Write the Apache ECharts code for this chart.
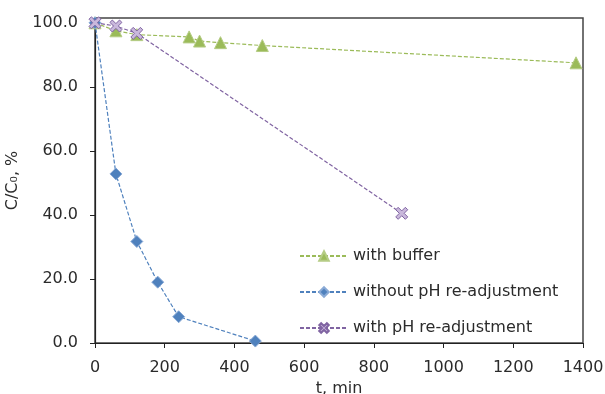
<!DOCTYPE html>
<html>
<head>
<meta charset="utf-8">
<script src="https://cdn.jsdelivr.net/npm/echarts@6/dist/echarts.min.js"></script>
<style>html,body{margin:0;padding:0;background:#fff;}#c{width:605px;height:394px;}</style>
</head>
<body>
<div id="c"></div>
<script>
const seriesNames = ['with buffer', 'without pH re-adjustment', 'with pH re-adjustment'];
const bufferT = [0, 60, 120, 270, 300, 360, 480, 1380];
const bufferV = [100, 97.5, 96.3, 95.6, 94.3, 93.8, 92.9, 87.5];
const noAdjT = [0, 60, 120, 180, 240, 460];
const noAdjV = [100, 52.8, 31.7, 19.0, 8.2, 0.6];
const adjT = [0, 60, 120, 880];
const adjV = [100, 99.0, 96.7, 40.5];
const xTicks = [0, 200, 400, 600, 800, 1000, 1200, 1400];
const yTicks = [0, 20, 40, 60, 80, 100];

const pair = (t, v) => t.map((x, i) => [x, v[i]]);
const xShape = 'path://M0,2 L2,0 L5,3 L8,0 L10,2 L7,5 L10,8 L8,10 L5,7 L2,10 L0,8 L3,5 Z';
const font = 'DejaVu Sans';
const txt = '#2b2b2b';

const chart = echarts.init(document.getElementById('c'), null, {renderer: 'canvas'});
chart.setOption({
  animation: false,
  textStyle: {fontFamily: font},
  grid: {left: 95, right: 22, top: 18, bottom: 51, containLabel: false, outerBoundsMode: 'none',
    show: true, borderColor: '#444', borderWidth: 1.5},
  legend: {
    orient: 'vertical', left: 294, top: 243, itemGap: 20, itemWidth: 48, itemHeight: 12,
    textStyle: {fontSize: 16, color: txt, fontFamily: font},
    data: seriesNames
  },
  xAxis: {
    type: 'value', min: 0, max: 1400, interval: 200,
    name: 't, min', nameLocation: 'middle', nameGap: 38,
    nameTextStyle: {fontSize: 16, color: txt},
    axisLine: {show: true, lineStyle: {color: '#222', width: 1.2}},
    axisTick: {show: true, inside: false, length: 5, lineStyle: {color: '#222'}},
    axisLabel: {fontSize: 16, color: txt, margin: 17,
      formatter: v => xTicks.includes(v) ? String(v) : ''},
    splitLine: {show: false}
  },
  yAxis: {
    type: 'value', min: 0, max: 101.5, interval: 20,
    name: 'C/C\u2080, %', nameLocation: 'middle', nameGap: 64, nameRotate: 90,
    nameTextStyle: {fontSize: 16, color: txt},
    axisLine: {show: true, lineStyle: {color: '#222', width: 1.2}},
    axisTick: {show: true, inside: false, length: 5, lineStyle: {color: '#222'}},
    axisLabel: {fontSize: 16, color: txt, margin: 17, showMaxLabel: false,
      formatter: v => yTicks.includes(v) ? v.toFixed(1) : ''},
    splitLine: {show: false}
  },
  series: [
    {
      name: seriesNames[0], type: 'line', data: pair(bufferT, bufferV),
      symbol: 'triangle', symbolSize: 12,
      lineStyle: {color: '#9BBB59', width: 1.2, type: [4, 2]},
      itemStyle: {color: '#9BBB59', borderColor: '#B5CC85', borderWidth: 1}
    },
    {
      name: seriesNames[1], type: 'line', data: pair(noAdjT, noAdjV),
      symbol: 'diamond', symbolSize: 12,
      lineStyle: {color: '#4F81BD', width: 1.2, type: [4, 2]},
      itemStyle: {color: '#4F81BD', borderColor: '#8AAAD6', borderWidth: 1}
    },
    {
      name: seriesNames[2], type: 'line', data: pair(adjT, adjV),
      symbol: xShape, symbolSize: 12,
      lineStyle: {color: '#8064A2', width: 1.2, type: [4, 2]},
      itemStyle: {color: '#C9B8DC', borderColor: '#8064A2', borderWidth: 1}
    }
  ]
});
</script>
</body>
</html>
